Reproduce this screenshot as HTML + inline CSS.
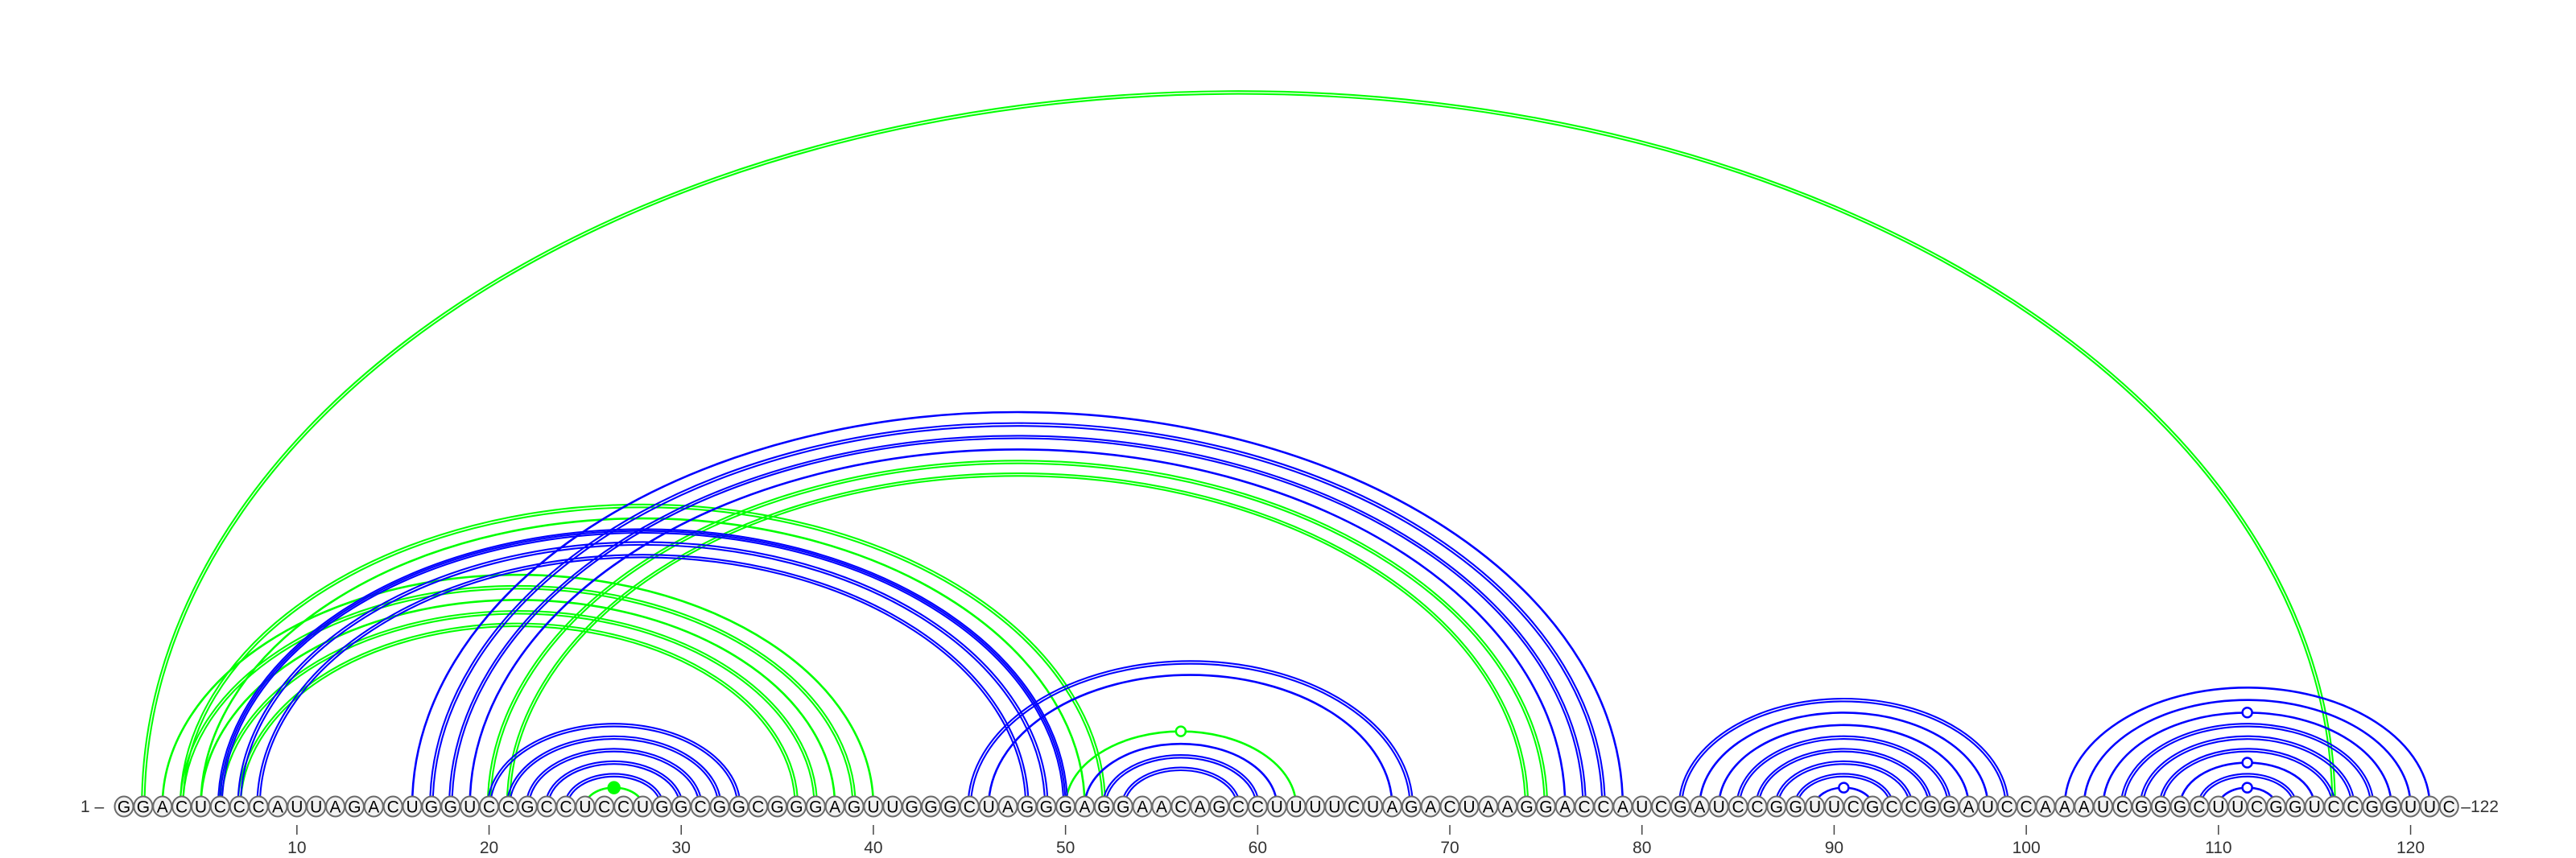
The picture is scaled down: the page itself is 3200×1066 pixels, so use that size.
<!DOCTYPE html>
<html><head><meta charset="utf-8"><style>
html,body{margin:0;padding:0;background:#fff;}
svg{display:block;}
text{font-family:"Liberation Sans",sans-serif;}
</style></head><body>
<svg id="chart" width="3200" height="1066" viewBox="0 0 3200 1066" xmlns="http://www.w3.org/2000/svg">
<g id="arcs"></g>
<g id="markers"></g>
<g id="nts"></g>
<g id="axis"></g>
</svg>
<script>
const sequence = "GGACUCCCAUUAGACUGGUCCGCCUCCUGGCGGCGGGAGUUGGGCUAGGGAGGAACAGCCUUUUCUAGACUAAGGACCAUCGAUCCGGUUCGCCGGAUCCAAAUCGGGCUUCGGUCCGGUUC";
const pairI = [2,3,4,5,6,7,4,5,20,21,25,50, 6,7,8,16,17,18,19,20,21,22,23,24,45,46,51,52,53, 82,83,84,85,86,87,88,89, 102,103,104,105,106,107,108,109,110];
const pairJ = [116,40,39,38,37,36,52,51,75,74,28,62, 50,49,48,79,78,77,76,33,32,31,30,29,68,67,61,60,59, 99,98,97,96,95,94,93,92, 121,120,119,118,117,116,115,114,113];
const lineCount = [2,1,2,1,2,2,2,1,2,2,1,1, 3,2,2,1,2,2,1,2,2,2,2,2,2,1,1,2,2, 2,1,1,2,2,2,2,1, 1,1,1,2,2,2,1,2,1];
const arcColor = ["g","g","g","g","g","g","g","g","g","g","g","g", "b","b","b","b","b","b","b","b","b","b","b","b","b","b","b","b","b", "b","b","b","b","b","b","b","b", "b","b","b","b","b","b","b","b","b"];
const markerType = [0,0,0,0,0,0,0,0,0,0,2,1, 0,0,0,0,0,0,0,0,0,0,0,0,0,0,0,0,0, 0,0,0,0,0,0,0,1, 0,0,1,0,0,0,1,0,1];
const tickLabels = [10,20,30,40,50,60,70,80,90,100,110,120];

const NS = "http://www.w3.org/2000/svg";
const X0 = 154, STEP = 23.87, YB = 1002, RATIO = 0.652;
function xPos(i){ return X0 + (i-1)*STEP; }
const colors = {b:"#0000ff", g:"#00ff00"};
const arcsG = document.getElementById("arcs");
const markG = document.getElementById("markers");
const ntG = document.getElementById("nts");
const axG = document.getElementById("axis");

for (let k=0;k<pairI.length;k++){
  const x1 = xPos(pairI[k]), x2 = xPos(pairJ[k]);
  const cx = (x1+x2)/2, rx = (x2-x1)/2, ry = rx*RATIO;
  const n = lineCount[k];
  const offs = n===1 ? [0] : (n===2 ? [-1.7,1.7] : [-2.4,0,2.4]);
  const g = document.createElementNS(NS,"g");
  
  
  offs.forEach(d=>{
    const p = document.createElementNS(NS,"path");
    const r1 = rx+d, r2 = ry+d;
    p.setAttribute("d", `M ${cx-r1} ${YB} A ${r1} ${r2} 0 0 1 ${cx+r1} ${YB}`);
    p.setAttribute("fill","none");
    p.setAttribute("stroke", colors[arcColor[k]]);
    p.setAttribute("stroke-width", n===1 ? 2.6 : 2.1);
    
    
    g.appendChild(p);
  });
  arcsG.appendChild(g);
  if (markerType[k]) {
    const c = document.createElementNS(NS,"circle");
    c.setAttribute("cx", cx); c.setAttribute("cy", YB-ry);
    c.setAttribute("r", markerType[k]===2 ? 7 : 6);
    c.setAttribute("fill", markerType[k]===2 ? colors[arcColor[k]] : "#fff");
    c.setAttribute("stroke", colors[arcColor[k]]);
    c.setAttribute("stroke-width", 2.5);
    
    
    markG.appendChild(c);
  }
}

for (let i=1;i<=sequence.length;i++){
  const x = xPos(i);
  const c = document.createElementNS(NS,"ellipse");
  c.setAttribute("cx", x); c.setAttribute("cy", YB);
  c.setAttribute("rx", 11.5); c.setAttribute("ry", 12.5);
  c.setAttribute("fill", "#f2f2f2"); c.setAttribute("stroke", "#6a6a6a"); c.setAttribute("stroke-width", 2);
  
  
  ntG.appendChild(c);
  const t = document.createElementNS(NS,"text");
  t.setAttribute("x", x); t.setAttribute("y", YB+7.5);
  t.setAttribute("text-anchor","middle"); t.setAttribute("font-size", 21); t.setAttribute("fill","#000");
  t.textContent = sequence[i-1];
  
  
  ntG.appendChild(t);
}

tickLabels.forEach(v=>{
  const x = xPos(v);
  const l = document.createElementNS(NS,"line");
  l.setAttribute("x1",x); l.setAttribute("x2",x); l.setAttribute("y1",1025); l.setAttribute("y2",1037);
  l.setAttribute("stroke","#444"); l.setAttribute("stroke-width",1.5);
  
  
  axG.appendChild(l);
  const t = document.createElementNS(NS,"text");
  t.setAttribute("x",x); t.setAttribute("y",1060);
  t.setAttribute("text-anchor","middle"); t.setAttribute("font-size",21); t.setAttribute("fill","#333");
  t.textContent = v;
  
  
  axG.appendChild(t);
});

const s = document.createElementNS(NS,"text");
s.setAttribute("x", 100); s.setAttribute("y", YB+7); s.setAttribute("font-size",21); s.setAttribute("fill","#333");
s.textContent = "1 \u2013";


axG.appendChild(s);
const e = document.createElementNS(NS,"text");
e.setAttribute("x", xPos(122)+15); e.setAttribute("y", YB+7); e.setAttribute("font-size",21); e.setAttribute("fill","#333");
e.textContent = "\u2013122";


axG.appendChild(e);
</script>
</body></html>
